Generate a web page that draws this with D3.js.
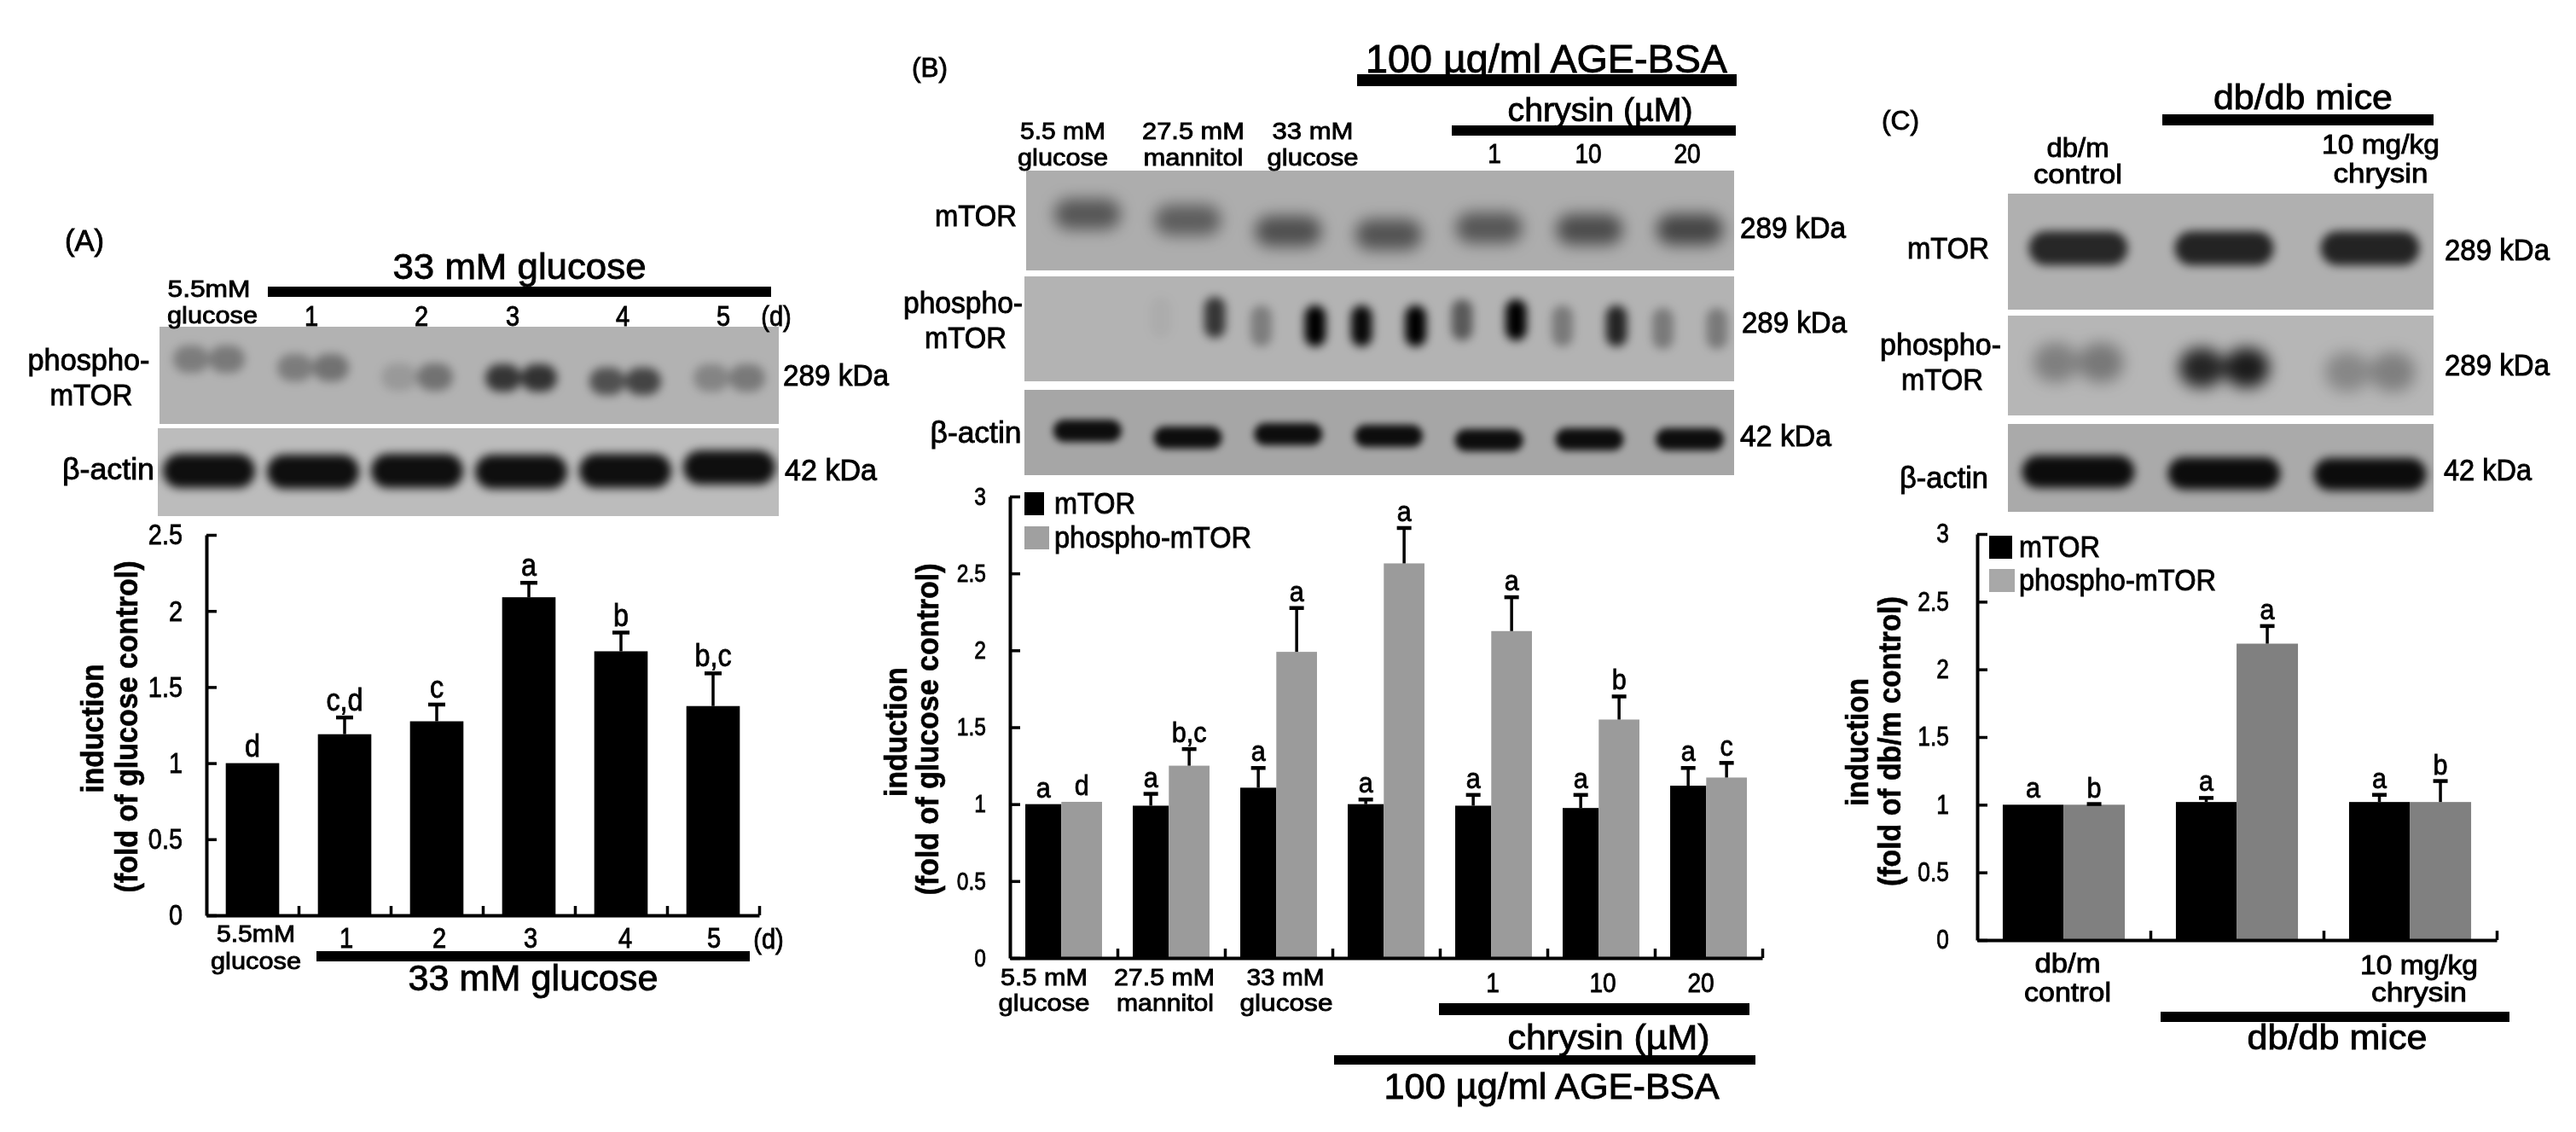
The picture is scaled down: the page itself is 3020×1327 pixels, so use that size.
<!DOCTYPE html>
<html>
<head>
<meta charset="utf-8">
<script src="https://cdn.jsdelivr.net/npm/d3@7/dist/d3.min.js"></script>
<style>
  html, body { margin: 0; padding: 0; background: #fff; }
  svg { display: block; }
  text { font-family: "Liberation Sans", Arial, sans-serif; fill: #000; }
</style>
</head>
<body>
<div id="figure"></div>
<script>
// panel A
var a_categories = ['5.5mM glucose', '1', '2', '3', '4', '5'];
var a_values = [1.0, 1.19, 1.275, 2.09, 1.735, 1.375];
var a_errors = [null, 1.3, 1.385, 2.185, 1.858, 1.59];
var a_letters = ['d', 'c,d', 'c', 'a', 'b', 'b,c'];
var a_yticks = [0, 0.5, 1, 1.5, 2, 2.5];
var a_phospho_left = [0.3, 0.3, 0.14, 0.7, 0.55, 0.26];
var a_phospho_right = [0.32, 0.36, 0.36, 0.72, 0.62, 0.32];
var a_actin = [0.92, 0.92, 0.92, 0.92, 0.92, 0.92];

// panel B
var b_categories = ['5.5 mM glucose', '27.5 mM mannitol', '33 mM glucose', 'AGE-BSA', '1', '10', '20'];
var b_mtor = [1.0, 0.99, 1.107, 1.0, 0.99, 0.975, 1.12];
var b_mtor_err = [null, 1.067, 1.235, 1.03, 1.06, 1.06, 1.235];
var b_mtor_letters = ['a', 'a', 'a', 'a', 'a', 'a', 'a'];
var b_phospho = [1.015, 1.25, 1.99, 2.565, 2.125, 1.55, 1.173];
var b_phospho_err = [null, 1.358, 2.275, 2.795, 2.345, 1.7, 1.268];
var b_phospho_letters = ['d', 'b,c', 'a', 'a', 'a', 'b', 'c'];
var b_yticks = [0, 0.5, 1, 1.5, 2, 2.5, 3];
var b_blot_mtor = [0.5, 0.46, 0.54, 0.52, 0.5, 0.56, 0.6];
var b_blot_phospho_left = [0, 0.04, 0.3, 0.95, 0.5, 0.32, 0.32];
var b_blot_phospho_right = [0, 0.7, 1, 1, 1, 0.8, 0.32];
var b_blot_actin = [0.92, 0.92, 0.92, 0.92, 0.92, 0.92, 0.92];

// panel C
var c_categories = ['db/m control', 'db/db', '10 mg/kg chrysin'];
var c_mtor = [1.0, 1.02, 1.02];
var c_mtor_err = [null, 1.05, 1.073];
var c_mtor_letters = ['a', 'a', 'a'];
var c_phospho = [1.0, 2.19, 1.02];
var c_phospho_err = [1.005, 2.32, 1.175];
var c_phospho_letters = ['b', 'a', 'b'];
var c_yticks = [0, 0.5, 1, 1.5, 2, 2.5, 3];
var c_blot_mtor = [0.78, 0.8, 0.8];
var c_blot_phospho_left = [0.3, 0.8, 0.26];
var c_blot_phospho_right = [0.34, 0.85, 0.3];
var c_blot_actin = [0.93, 0.93, 0.93];

var svg = d3.select('#figure').append('svg')
    .attr('width', 3020)
    .attr('height', 1327);

var defs = svg.append('defs');
[['soft', 0.7], ['blur5', 5.5], ['blur8', 9], ['blur3', 4]].forEach(function(f) {
    defs.append('filter')
        .attr('id', f[0])
        .attr('x', '-30%').attr('y', '-30%')
        .attr('width', '160%').attr('height', '160%')
      .append('feGaussianBlur')
        .attr('stdDeviation', f[1]);
});

var blots = svg.append('g').attr('class', 'blots');
var charts = svg.append('g').attr('class', 'charts');
var labels = svg.append('g').attr('class', 'labels').attr('filter', 'url(#soft)');
var clip_count = 0;
var font_scale = 1.14;

// squeezes the text to the width it has in the figure
function label(x, y, str, size, width, anchor, weight) {
    var t = labels.append('text')
        .attr('x', x)
        .attr('y', y)
        .attr('dy', '0.35em')
        .attr('text-anchor', anchor || 'middle')
        .style('font-size', size * font_scale + 'px')
        .style('font-weight', weight || 'normal')
        .style('stroke', '#000')
        .style('stroke-width', 0.9)
        .text(str);
    if (width) {
        t.attr('textLength', width).attr('lengthAdjust', 'spacingAndGlyphs');
    } else {
        t.attr('textLength', t.node().getComputedTextLength() * 0.88).attr('lengthAdjust', 'spacingAndGlyphs');
    }
    return t;
}

function vlabel(x, y, str, size, width) {
    labels.append('text')
        .attr('transform', 'translate(' + x + ',' + y + ') rotate(-90)')
        .attr('dy', '0.35em')
        .attr('text-anchor', 'middle')
        .attr('textLength', width)
        .attr('lengthAdjust', 'spacingAndGlyphs')
        .style('font-size', size + 'px')
        .style('font-weight', 'bold')
        .style('stroke', '#000')
        .style('stroke-width', 0.6)
        .text(str);
}

function blackbar(x0, x1, y0, y1) {
    charts.append('rect')
        .attr('x', x0).attr('y', y0)
        .attr('width', x1 - x0).attr('height', y1 - y0)
        .attr('fill', '#000');
}

function drawBlot(o) {
    var id = 'clip' + (clip_count++);
    defs.append('clipPath').attr('id', id)
      .append('rect')
        .attr('x', o.x0).attr('y', o.y0)
        .attr('width', o.x1 - o.x0).attr('height', o.y1 - o.y0);

    var g = blots.append('g').attr('clip-path', 'url(#' + id + ')');
    g.append('rect')
        .attr('x', o.x0).attr('y', o.y0)
        .attr('width', o.x1 - o.x0).attr('height', o.y1 - o.y0)
        .attr('fill', o.fill);

    var lane = d3.scaleBand()
        .domain(d3.range(o.left.length))
        .range(o.lanes);

    var lobes = g.append('g').attr('filter', 'url(#' + o.blur + ')');

    // a band is one bar, or two lobes side by side when right is given
    var sides = o.right ? [o.left, o.right] : [o.left];
    var frac = o.right ? o.lobe : 1;
    sides.forEach(function(vals, side) {
        lobes.selectAll('.lobe' + side)
            .data(vals)
          .enter().append('rect')
            .attr('class', 'lobe' + side)
            .attr('x', function(d, i) {
                var c = lane(i) + lane.bandwidth() / 2;
                return side === 0 ? c - o.w / 2 : c + o.w / 2 - o.w * frac;
            })
            .attr('y', function(d, i) { return o.cy[i] - o.h / 2; })
            .attr('width', o.w * frac)
            .attr('height', o.h)
            .attr('rx', Math.min(o.h / 2, o.w * frac / 2))
            .attr('fill', '#000')
            .attr('fill-opacity', function(d) { return d; });
    });
}

function drawChart(o) {
    var g = charts.append('g');

    var y = d3.scaleLinear().domain([0, o.max_y]).range([o.bottom, o.top]);
    var x = d3.scaleBand()
        .domain(o.categories)
        .range([o.left, o.right])
        .paddingInner(o.gap)
        .paddingOuter(o.gap / 2);
    var x_ticks = d3.scaleLinear()
        .domain([0, o.categories.length])
        .range([o.left, o.right]);

    var offset = 0;
    o.series.forEach(function(s) {
        var start = offset;
        var bar_x = function(i) { return x(o.categories[i]) + start * x.bandwidth(); };
        var bar_w = s.share * x.bandwidth();
        offset += s.share;

        var bars = g.append('g');
        bars.selectAll('rect')
            .data(s.values)
          .enter().append('rect')
            .attr('x', function(d, i) { return bar_x(i); })
            .attr('y', function(d) { return y(d); })
            .attr('width', bar_w)
            .attr('height', function(d) { return y(0) - y(d); })
            .attr('fill', s.colour);

        s.errors.forEach(function(e, i) {
            if (e === null) return;
            var cx = bar_x(i) + bar_w / 2;
            g.append('line')
                .attr('x1', cx).attr('x2', cx)
                .attr('y1', y(s.values[i])).attr('y2', y(e))
                .attr('stroke', '#000').attr('stroke-width', 3.5);
            g.append('line')
                .attr('x1', cx - o.cap / 2).attr('x2', cx + o.cap / 2)
                .attr('y1', y(e)).attr('y2', y(e))
                .attr('stroke', '#000').attr('stroke-width', 4.5);
        });

        s.letters.forEach(function(l, i) {
            var top = s.errors[i] === null ? s.values[i] : s.errors[i];
            var t = labels.append('text')
                .attr('x', bar_x(i) + bar_w / 2)
                .attr('y', y(top) - 8)
                .attr('text-anchor', 'middle')
                .style('font-size', o.letter_size + 'px')
                .style('stroke', '#000')
                .style('stroke-width', 0.8)
                .text(l);
            t.attr('textLength', t.node().getComputedTextLength() * 0.9).attr('lengthAdjust', 'spacingAndGlyphs');
        });
    });

    var y_axis = d3.axisLeft(y)
        .tickValues(o.yticks)
        .tickSizeInner(-12)
        .tickSizeOuter(0)
        .tickPadding(o.tick_pad)
        .tickFormat(function(d) { return d; });
    var x_axis = d3.axisBottom(x_ticks)
        .tickValues(d3.range(1, o.categories.length + 1))
        .tickSizeInner(-11)
        .tickSizeOuter(0)
        .tickFormat('');

    [g.append('g').attr('transform', 'translate(' + o.left + ',0)').call(y_axis),
     g.append('g').attr('transform', 'translate(0,' + o.bottom + ')').call(x_axis)].forEach(function(ax) {
        ax.select('.domain').attr('stroke', '#000').attr('stroke-width', 4);
        ax.selectAll('.tick line').attr('stroke', '#000').attr('stroke-width', 3.5);
    });
    g.selectAll('.tick text')
        .style('font-family', '"Liberation Sans", Arial, sans-serif')
        .style('font-size', o.tick_size + 'px')
        .style('stroke', '#000')
        .style('stroke-width', 0.8)
        .attr('filter', 'url(#soft)')
        .each(function() {
            d3.select(this)
                .attr('textLength', this.getComputedTextLength() * 0.85)
                .attr('lengthAdjust', 'spacingAndGlyphs');
        });
}

function legend(x, y0, y1, gw, text_x, right0, right1, grey) {
    charts.append('rect').attr('x', x).attr('y', y0).attr('width', gw[0]).attr('height', gw[1]).attr('fill', '#000');
    charts.append('rect').attr('x', x).attr('y', y1).attr('width', gw[2]).attr('height', gw[1]).attr('fill', grey);
    label(text_x, y0 + gw[1] / 2, 'mTOR', 30, right0 - text_x, 'start');
    label(text_x, y1 + gw[1] / 2, 'phospho-mTOR', 30, right1 - text_x, 'start');
}

// ---- panel A ----
drawBlot({x0: 187, x1: 913, y0: 383, y1: 497, fill: '#b2b2b2', lanes: [184, 916], w: 84, h: 32, lobe: 0.5, blur: 'blur5',
    left: a_phospho_left, right: a_phospho_right, cy: [421, 431, 442, 443, 447, 443]});
drawBlot({x0: 185, x1: 913, y0: 502, y1: 605, fill: '#bcbcbc', lanes: [184, 916], w: 108, h: 40, blur: 'blur5',
    left: a_actin, cy: [552, 553, 552, 553, 552, 548]});

drawChart({categories: a_categories, max_y: 2.5, yticks: a_yticks, left: 242, right: 890, top: 627, bottom: 1073,
    gap: 0.42, cap: 20, letter_size: 36, tick_size: 34, tick_pad: 28,
    series: [{values: a_values, errors: a_errors, letters: a_letters, colour: '#000', share: 1}]});

label(99, 282, '(A)', 30, 46);
label(609, 312, '33 mM glucose', 38, 297);
blackbar(314, 904, 336, 348);
label(245, 338, '5.5mM', 25, 97);
label(249, 369, 'glucose', 25, 106);
[['1', 365], ['2', 494], ['3', 601], ['4', 730], ['5', 848]].forEach(function(d) { label(d[1], 370, d[0], 29); });
label(910, 370, '(d)', 29);
label(104, 422, 'phospho-', 30, 143);
label(107, 463, 'mTOR', 30, 97);
label(127, 550, '\u03b2-actin', 30, 108);
label(918, 440, '289 kDa', 30, 124, 'start');
label(920, 551, '42 kDa', 30, 108, 'start');
vlabel(108, 854, 'induction', 36, 151);
vlabel(148, 852, '(fold of glucose control)', 36, 389);
label(300, 1094, '5.5mM', 25, 92);
label(300, 1126, 'glucose', 25, 106);
[['1', 406], ['2', 515], ['3', 622], ['4', 733], ['5', 837]].forEach(function(d) { label(d[1], 1099, d[0], 29); });
label(901, 1100, '(d)', 29);
blackbar(371, 879, 1115, 1127);
label(625, 1146, '33 mM glucose', 38, 293);

// ---- panel B ----
drawBlot({x0: 1203, x1: 2033, y0: 200, y1: 317, fill: '#adadad', lanes: [1216, 2040], w: 78, h: 36, blur: 'blur8',
    left: b_blot_mtor, cy: [251, 258, 271, 275, 267, 269, 269]});
drawBlot({x0: 1201, x1: 2033, y0: 324, y1: 447, fill: '#b3b3b3', lanes: [1216, 2040], w: 88, h: 48, lobe: 0.28, blur: 'blur5',
    left: b_blot_phospho_left, right: b_blot_phospho_right, cy: [375, 372, 382, 382, 375, 382, 385]});
drawBlot({x0: 1201, x1: 2033, y0: 457, y1: 557, fill: '#a6a6a6', lanes: [1216, 2040], w: 80, h: 26, blur: 'blur3',
    left: b_blot_actin, cy: [505, 513, 509, 511, 516, 515, 515]});

drawChart({categories: b_categories, max_y: 3, yticks: b_yticks, left: 1184, right: 2066, top: 582, bottom: 1123,
    gap: 0.286, cap: 17, letter_size: 34, tick_size: 29, tick_pad: 28,
    series: [
        {values: b_mtor, errors: b_mtor_err, letters: b_mtor_letters, colour: '#000', share: 0.47},
        {values: b_phospho, errors: b_phospho_err, letters: b_phospho_letters, colour: '#9b9b9b', share: 0.53}
    ]});
legend(1201, 577, 617, [23, 27, 29], 1236, 1331, 1467, '#a0a0a0');

label(1090, 79, '(B)', 28, 42);
label(1813, 69, '100 \u00b5g/ml AGE-BSA', 40, 424);
blackbar(1591, 2036, 87, 101);
label(1876, 128, 'chrysin (\u00b5M)', 34, 217);
blackbar(1702, 2035, 147, 159);
[['1', 1752], ['10', 1862], ['20', 1978]].forEach(function(d) { label(d[1], 180, d[0], 28); });
label(1246, 153, '5.5 mM', 25, 100);
label(1246, 184, 'glucose', 25, 106);
label(1399, 153, '27.5 mM', 25, 120);
label(1399, 184, 'mannitol', 25, 117);
label(1539, 153, '33 mM', 25, 95);
label(1539, 184, 'glucose', 25, 107);
label(1144, 253, 'mTOR', 30, 96);
label(1129, 355, 'phospho-', 30, 140);
label(1132, 396, 'mTOR', 30, 96);
label(1144, 507, '\u03b2-actin', 30, 107);
label(2040, 267, '289 kDa', 30, 124, 'start');
label(2042, 378, '289 kDa', 30, 123, 'start');
label(2040, 511, '42 kDa', 30, 107, 'start');
vlabel(1050, 858, 'induction', 36, 152);
vlabel(1087, 855, '(fold of glucose control)', 36, 389);
label(1224, 1145, '5.5 mM', 25, 102);
label(1224, 1175, 'glucose', 25, 107);
label(1365, 1145, '27.5 mM', 25, 118);
label(1366, 1175, 'mannitol', 25, 114);
label(1507, 1145, '33 mM', 25, 91);
label(1508, 1175, 'glucose', 25, 109);
[['1', 1750], ['10', 1879], ['20', 1994]].forEach(function(d) { label(d[1], 1152, d[0], 28); });
blackbar(1687, 2051, 1176, 1190);
label(1886, 1216, 'chrysin (\u00b5M)', 36, 237);
blackbar(1564, 2058, 1237, 1248);
label(1819, 1273, '100 \u00b5g/ml  AGE-BSA', 38, 393);

// ---- panel C ----
drawBlot({x0: 2354, x1: 2853, y0: 227, y1: 363, fill: '#b0b0b0', lanes: [2351, 2864], w: 116, h: 40, blur: 'blur5',
    left: c_blot_mtor, cy: [291, 291, 291]});
drawBlot({x0: 2354, x1: 2853, y0: 370, y1: 487, fill: '#b6b6b6', lanes: [2351, 2864], w: 106, h: 46, lobe: 0.5, blur: 'blur8',
    left: c_blot_phospho_left, right: c_blot_phospho_right, cy: [425, 431, 436]});
drawBlot({x0: 2354, x1: 2853, y0: 497, y1: 600, fill: '#aaaaaa', lanes: [2351, 2864], w: 132, h: 38, blur: 'blur5',
    left: c_blot_actin, cy: [553, 555, 556]});

drawChart({categories: c_categories, max_y: 3, yticks: c_yticks, left: 2318, right: 2927, top: 626, bottom: 1102,
    gap: 0.295, cap: 17, letter_size: 34, tick_size: 31, tick_pad: 33,
    series: [
        {values: c_mtor, errors: c_mtor_err, letters: c_mtor_letters, colour: '#000', share: 0.497},
        {values: c_phospho, errors: c_phospho_err, letters: c_phospho_letters, colour: '#808080', share: 0.503}
    ]});
legend(2332, 628, 667, [27, 27, 30], 2367, 2462, 2598, '#a8a8a8');

label(2228, 141, '(C)', 28, 44);
label(2700, 114, 'db/db mice', 36, 210);
blackbar(2535, 2853, 134, 147);
label(2436, 173, 'db/m', 27, 73);
label(2436, 204, 'control', 27, 104);
label(2791, 169, '10 mg/kg', 27, 138);
label(2791, 203, 'chrysin', 27, 111);
label(2284, 291, 'mTOR', 30, 96);
label(2275, 404, 'phospho-', 30, 142);
label(2277, 445, 'mTOR', 30, 96);
label(2279, 560, '\u03b2-actin', 30, 104);
label(2866, 293, '289 kDa', 30, 123, 'start');
label(2866, 428, '289 kDa', 30, 123, 'start');
label(2865, 551, '42 kDa', 30, 103, 'start');
vlabel(2177, 870, 'induction', 36, 150);
vlabel(2215, 869, '(fold of db/m control)', 36, 340);
label(2424, 1129, 'db/m', 27, 77);
label(2424, 1163, 'control', 27, 102);
label(2836, 1131, '10 mg/kg', 27, 138);
label(2836, 1163, 'chrysin', 27, 112);
blackbar(2533, 2942, 1186, 1198);
label(2740, 1216, 'db/db mice', 36, 211);
</script>
</body>
</html>
